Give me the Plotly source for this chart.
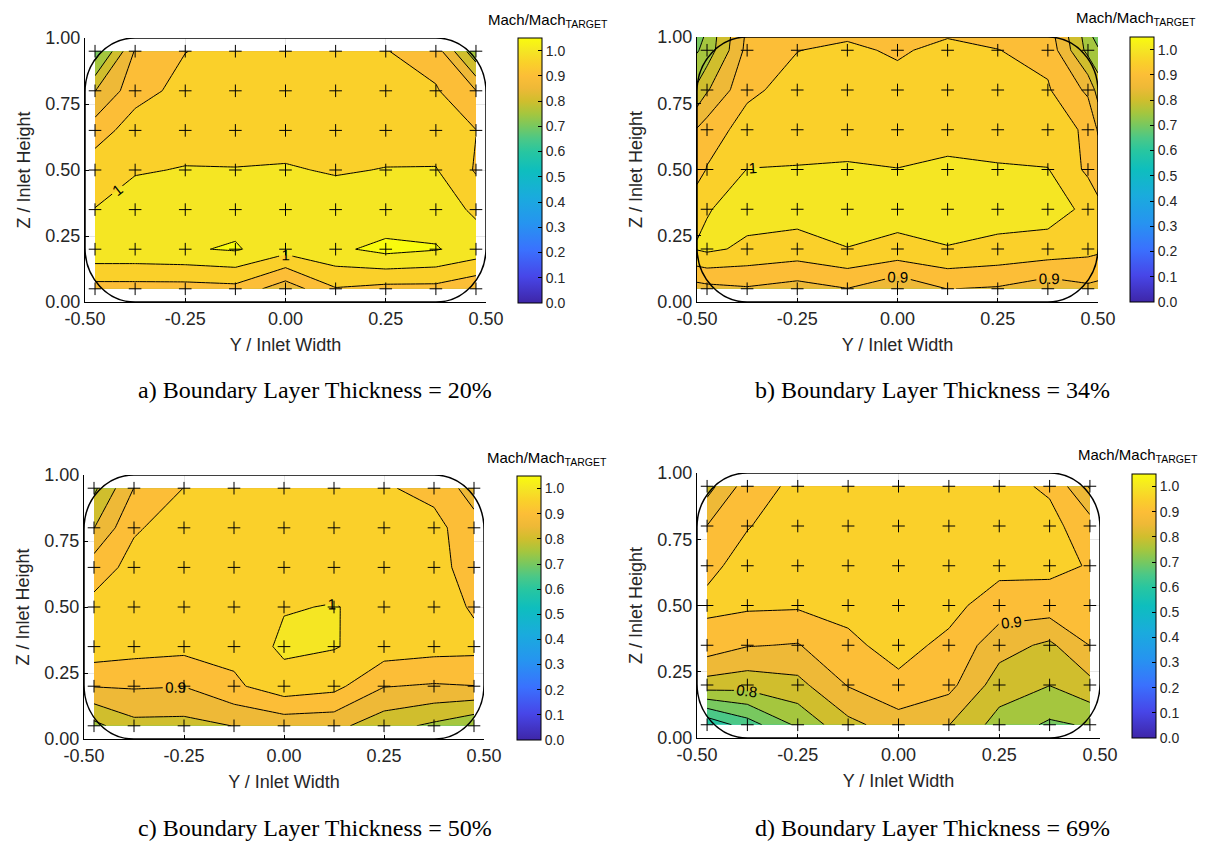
import plotly.graph_objects as go

# ---------------- data ----------------
y_width = [-0.475, -0.375, -0.25, -0.125, 0.0, 0.125, 0.25, 0.375, 0.475]
z_height = [0.05, 0.2, 0.35, 0.5, 0.65, 0.8, 0.95]
# panel b was measured up to the inlet walls
y_width_b = [-0.5, -0.475, -0.375, -0.25, -0.125, 0.0, 0.125, 0.25, 0.375, 0.475, 0.5]
z_height_b = [0.05, 0.2, 0.35, 0.5, 0.65, 0.8, 0.95, 1.0]

# rows: bottom (z=0.05) to top
mach_a = [
    [0.93, 0.93, 0.93, 0.935, 0.87, 0.947, 0.935, 0.935, 0.91],
    [1.04, 1.04, 1.045, 1.055, 1.02, 1.04, 1.065, 1.053, 1.03],
    [1.001, 1.03, 1.03, 1.03, 1.03, 1.03, 1.01, 1.03, 0.99],
    [0.98, 0.995, 1.003, 1.002, 1.005, 0.995, 1.002, 1.003, 0.945],
    [0.925, 0.975, 0.975, 0.975, 0.975, 0.975, 0.975, 0.97, 0.951],
    [0.849, 0.93, 0.967, 0.97, 0.97, 0.97, 0.97, 0.955, 0.901],
    [0.72, 0.905, 0.949, 0.965, 0.97, 0.965, 0.952, 0.926, 0.761],
]
mach_b = [
    [0.88, 0.885, 0.895, 0.88, 0.899, 0.86, 0.901, 0.895, 0.87, 0.89, 0.885],
    [1.003, 1.01, 0.99, 0.98, 0.999, 0.986, 0.998, 0.988, 0.98, 0.965, 0.96],
    [0.99, 0.997, 1.02, 1.02, 1.02, 1.02, 1.02, 1.02, 1.02, 0.99, 0.96],
    [0.926, 0.953, 1.001, 1.003, 1.005, 1.001, 1.01, 1.005, 1.002, 0.94, 0.93],
    [0.904, 0.925, 0.97, 0.975, 0.98, 0.975, 0.98, 0.975, 0.965, 0.945, 0.895],
    [0.81, 0.845, 0.94, 0.968, 0.975, 0.97, 0.975, 0.97, 0.955, 0.89, 0.83],
    [0.745, 0.77, 0.915, 0.949, 0.96, 0.943, 0.965, 0.951, 0.936, 0.785, 0.76],
    [0.72, 0.765, 0.91, 0.935, 0.945, 0.93, 0.948, 0.94, 0.927, 0.777, 0.72],
]
mach_c = [
    [0.785, 0.835, 0.834, 0.851, 0.868, 0.865, 0.819, 0.79, 0.76],
    [0.902, 0.905, 0.901, 0.941, 0.979, 0.965, 0.902, 0.895, 0.899],
    [0.982, 0.97, 0.964, 0.965, 1.01, 1.003, 0.978, 0.969, 0.965],
    [0.964, 0.97, 0.975, 0.985, 0.997, 1.002, 0.986, 0.975, 0.944],
    [0.927, 0.965, 0.975, 0.98, 0.98, 0.98, 0.975, 0.97, 0.925],
    [0.849, 0.945, 0.97, 0.975, 0.975, 0.975, 0.97, 0.965, 0.92],
    [0.79, 0.901, 0.951, 0.965, 0.965, 0.965, 0.955, 0.936, 0.877],
]
mach_d = [
    [0.61, 0.676, 0.76, 0.836, 0.875, 0.851, 0.78, 0.742, 0.755],
    [0.828, 0.82, 0.835, 0.903, 0.94, 0.915, 0.825, 0.801, 0.835],
    [0.929, 0.903, 0.897, 0.941, 0.965, 0.939, 0.87, 0.84, 0.901],
    [0.96, 0.958, 0.956, 0.962, 0.97, 0.965, 0.925, 0.927, 0.93],
    [0.94, 0.965, 0.97, 0.97, 0.97, 0.97, 0.965, 0.962, 0.947],
    [0.901, 0.948, 0.97, 0.97, 0.97, 0.97, 0.97, 0.965, 0.922],
    [0.83, 0.925, 0.963, 0.97, 0.97, 0.97, 0.965, 0.943, 0.845],
]

captions = [
    "a) Boundary Layer Thickness = 20%",
    "b) Boundary Layer Thickness = 34%",
    "c) Boundary Layer Thickness = 50%",
    "d) Boundary Layer Thickness = 69%",
]
x_ticks = [-0.5, -0.25, 0.0, 0.25, 0.5]
x_tick_text = ["-0.50", "-0.25", "0.00", "0.25", "0.50"]
z_ticks = [0.0, 0.25, 0.5, 0.75, 1.0]
z_tick_text = ["0.00", "0.25", "0.50", "0.75", "1.00"]
cbar_ticks = [0.0, 0.1, 0.2, 0.3, 0.4, 0.5, 0.6, 0.7, 0.8, 0.9, 1.0]
cbar_text = ["0.0", "0.1", "0.2", "0.3", "0.4", "0.5", "0.6", "0.7", "0.8", "0.9", "1.0"]
CMIN, CMAX = 0.0, 1.05

# ---------------- styling ----------------
W, H = 1228, 844
FONT = "Arial, Liberation Sans, sans-serif"
SERIF = "Times New Roman, Liberation Serif, serif"
TXT = "#262626"

PARULA = [
    (0.00, (62, 38, 168)), (0.10, (71, 70, 232)), (0.20, (58, 113, 254)),
    (0.30, (38, 148, 240)), (0.40, (26, 171, 221)), (0.50, (14, 190, 190)),
    (0.571, (40, 198, 160)), (0.619, (75, 200, 135)), (0.667, (120, 200, 95)),
    (0.714, (165, 198, 62)), (0.762, (208, 190, 45)), (0.81, (238, 185, 55)),
    (0.857, (252, 190, 55)), (0.905, (250, 208, 42)), (0.952, (245, 230, 35)),
    (1.00, (249, 251, 14)),
]


def parula(p):
    p = min(max(p, 0.0), 1.0)
    for (p0, c0), (p1, c1) in zip(PARULA[:-1], PARULA[1:]):
        if p0 <= p <= p1:
            t = 0 if p1 == p0 else (p - p0) / (p1 - p0)
            c = [round(a + (b - a) * t) for a, b in zip(c0, c1)]
            return "rgb(%d,%d,%d)" % tuple(c)
    return "rgb(249,251,14)"


cbar_scale = [[p, "rgb(%d,%d,%d)" % c] for p, c in PARULA]

# filled bands coloured by their lower level (MATLAB contourf style)
START, END, STEP = 0.6, 1.05, 0.05
n_levels = int(round((END - START) / STEP)) + 1
fill_scale = []
for k in range(n_levels + 1):
    lower = START + (k - 1) * STEP
    fill_scale.append([k / n_levels, parula((lower - CMIN) / (CMAX - CMIN))])

panels = [
    dict(x=y_width, z=z_height, v=mach_a, xd=(85, 486), yd=(38, 302), cb=(518, 38, 303), cbt=(548, 20), cap=(315, 390)),
    dict(x=y_width_b, z=z_height_b, v=mach_b, xd=(697, 1098), yd=(37, 302), cb=(1130, 37, 302), cbt=(1136, 19), cap=(932, 390)),
    dict(x=y_width, z=z_height, v=mach_c, xd=(84, 484), yd=(475, 739), cb=(517, 476, 740), cbt=(547, 458), cap=(315, 828)),
    dict(x=y_width, z=z_height, v=mach_d, xd=(697, 1100), yd=(473, 738), cb=(1132, 474, 738), cbt=(1138, 455), cap=(932, 828)),
]

fig = go.Figure()
layout = dict(
    width=W, height=H, margin=dict(l=0, r=0, t=0, b=0, autoexpand=False),
    paper_bgcolor="white", plot_bgcolor="white", showlegend=False,
    font=dict(family=FONT, color=TXT),
)
shapes, annotations = [], []
rx, ry, kk = 0.125, 0.205, 0.5523

for i, p in enumerate(panels):
    sfx = "" if i == 0 else str(i + 1)
    xa, ya = "x" + sfx, "y" + sfx
    common = dict(x=p["x"], y=p["z"], z=p["v"], xaxis=xa, yaxis=ya,
                  showscale=False, hoverinfo="skip", autocontour=False)
    fig.add_trace(go.Contour(
        **common, colorscale=fill_scale,
        contours=dict(start=START, end=END, size=STEP, coloring="fill", showlines=False),
        line=dict(width=0, smoothing=0)))
    fig.add_trace(go.Contour(
        **common, colorscale=fill_scale,
        contours=dict(start=0.65, end=1.05, size=0.1, coloring="none"),
        line=dict(width=1, color="black", smoothing=0)))
    fig.add_trace(go.Contour(
        **common, colorscale=fill_scale,
        contours=dict(start=0.6, end=0.7, size=0.1, coloring="none"),
        line=dict(width=1, color="black", smoothing=0)))
    fig.add_trace(go.Contour(
        **common, colorscale=fill_scale,
        contours=dict(start=0.8, end=1.0, size=0.1, coloring="none", showlabels=True,
                      labelfont=dict(size=15, color="black", family=FONT),
                      labelformat=".1~f"),
        line=dict(width=1, color="black", smoothing=0)))
    # measurement probe positions
    px, pz = [], []
    for zz in z_height:
        for xx in y_width:
            px.append(xx)
            pz.append(zz)
    fig.add_trace(go.Scatter(
        x=px, y=pz, xaxis=xa, yaxis=ya, mode="markers", hoverinfo="skip",
        marker=dict(symbol="cross-thin", size=9, color="black",
                    line=dict(width=1, color="black"))))
    # colorbar carrier
    cbx, cby0, cby1 = p["cb"]
    fig.add_trace(go.Scatter(
        x=[9], y=[9], xaxis=xa, yaxis=ya, mode="markers", hoverinfo="skip",
        marker=dict(color=[0.5], colorscale=cbar_scale, cmin=CMIN, cmax=CMAX, size=1,
                    showscale=True,
                    colorbar=dict(
                        x=cbx / W, xanchor="left", y=1 - (cby0 + cby1) / 2 / H, yanchor="middle",
                        len=(cby1 - cby0) / H, lenmode="fraction", thickness=24,
                        thicknessmode="pixels", outlinewidth=1, outlinecolor="black",
                        xpad=0, ypad=0, tickmode="array", tickvals=cbar_ticks,
                        ticktext=cbar_text, ticks="inside", ticklen=4, tickcolor="black",
                        tickfont=dict(size=14, family=FONT, color=TXT)))))

    x0, x1 = p["xd"]
    y0, y1 = p["yd"]
    layout["xaxis" + sfx] = dict(
        domain=[x0 / W, x1 / W], anchor=ya, range=[-0.5, 0.5], tickmode="array",
        tickvals=x_ticks, ticktext=x_tick_text, showgrid=True, gridcolor="#e6e6e6",
        gridwidth=1, zeroline=False, showline=True, linecolor="black", linewidth=1,
        ticks="inside", ticklen=4, tickcolor="black", automargin=False,
        tickfont=dict(size=18, family=FONT, color=TXT),
        title=dict(text="Y / Inlet Width", font=dict(size=18, family=FONT, color=TXT), standoff=10))
    layout["yaxis" + sfx] = dict(
        domain=[1 - y1 / H, 1 - y0 / H], anchor=xa, range=[0, 1], tickmode="array",
        tickvals=z_ticks, ticktext=z_tick_text, showgrid=True, gridcolor="#e6e6e6",
        gridwidth=1, zeroline=False, showline=True, linecolor="black", linewidth=1,
        ticks="inside", ticklen=4, tickcolor="black", automargin=False,
        tickfont=dict(size=18, family=FONT, color=TXT),
        title=dict(text="Z / Inlet Height", font=dict(size=18, family=FONT, color=TXT), standoff=10))

    # inlet outline (rounded rectangle)
    a0, a1, b0, b1 = -0.5, 0.5, 0.0, 1.0
    path = (
        f"M {a0+rx},{b0} L {a1-rx},{b0} "
        f"C {a1-rx+kk*rx},{b0} {a1},{b0+ry-kk*ry} {a1},{b0+ry} "
        f"L {a1},{b1-ry} C {a1},{b1-ry+kk*ry} {a1-rx+kk*rx},{b1} {a1-rx},{b1} "
        f"L {a0+rx},{b1} C {a0+rx-kk*rx},{b1} {a0},{b1-ry+kk*ry} {a0},{b1-ry} "
        f"L {a0},{b0+ry} C {a0},{b0+ry-kk*ry} {a0+rx-kk*rx},{b0} {a0+rx},{b0} Z"
    )
    shapes.append(dict(type="path", path=path, xref=xa, yref=ya, layer="above",
                       line=dict(color="black", width=1.5), fillcolor="rgba(0,0,0,0)"))

    tx, ty = p["cbt"]
    annotations.append(dict(text="Mach/Mach<sub>TARGET</sub>", x=tx / W, y=1 - ty / H,
                            xref="paper", yref="paper", xanchor="center", yanchor="middle",
                            showarrow=False, font=dict(size=15, family=FONT, color="black")))
    cx, cy = p["cap"]
    annotations.append(dict(text=captions[i], x=cx / W, y=1 - cy / H, xref="paper", yref="paper",
                            xanchor="center", yanchor="middle", showarrow=False,
                            font=dict(size=24, family=SERIF, color="black")))

layout["shapes"] = shapes
layout["annotations"] = annotations
fig.update_layout(**layout)
fig.write_html(
    "out.html",
    config={"displayModeBar": False, "staticPlot": True},
    post_script="document.body.style.margin='0px';document.body.style.overflow='hidden';",
)
